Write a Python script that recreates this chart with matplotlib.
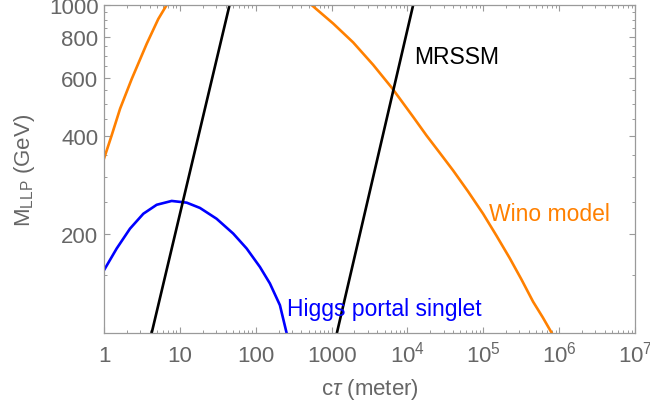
import matplotlib
matplotlib.use("Agg")
import matplotlib.pyplot as plt
from matplotlib.ticker import FixedLocator, NullFormatter

plt.rcParams["font.family"] = ["Liberation Sans", "DejaVu Sans"]
plt.rcParams["mathtext.fontset"] = "custom"
plt.rcParams["mathtext.rm"] = "Liberation Sans"
plt.rcParams["mathtext.it"] = "Liberation Sans:italic"

# Wino model (two branches)
wino_left_ctau = [1.0, 1.26, 1.63, 2.32, 3.65, 5.19, 6.7]
wino_left_m = [340, 400, 483, 595, 761, 906, 1000]
wino_right_ctau = [545, 1050, 1926, 3533, 6232, 7943, 11890, 17850, 26730, 40000,
                   63050, 99400, 149200, 223500, 318700, 453100, 608000, 799000]
wino_right_m = [1000, 878, 769, 657, 559, 518, 456, 400, 354, 313,
                270, 231, 198, 169, 145.6, 124.6, 111.6, 100]

# Higgs portal singlet
higgs_ctau = [1.0, 1.47, 2.20, 3.30, 4.95, 7.8, 12.3, 18.4, 30.5, 50.5,
              75.9, 113.6, 153.8, 208.4, 255.4]
higgs_m = [155.4, 181, 208, 231, 246, 252.7, 249.7, 240.6, 223, 201,
           181, 159, 141.6, 121.6, 100]

# MRSSM (two straight lines)
mrssm1_ctau = [4.25, 45.2]
mrssm1_m = [100, 1000]
mrssm2_ctau = [1175, 11900]
mrssm2_m = [100, 1000]

xticks = [1, 10, 100, 1000, 1e4, 1e5, 1e6, 1e7]
xlabels = ["1", "10", "100", "1000", r"$\mathregular{10^4}$", r"$\mathregular{10^5}$",
           r"$\mathregular{10^6}$", r"$\mathregular{10^7}$"]
yticks = [200, 400, 600, 800, 1000]

orange = "#ff8000"
blue = "#0000ff"
gray = "#666666"
framecol = "#9a9a9a"

fig = plt.figure(figsize=(6.5, 4.1), dpi=100)
ax = fig.add_axes([104 / 650, 1 - 334 / 410, (635 - 104) / 650, (334 - 6) / 410])

lw = 1.9
ax.plot(wino_left_ctau, wino_left_m, color=orange, lw=lw)
ax.plot(wino_right_ctau, wino_right_m, color=orange, lw=lw)
ax.plot(higgs_ctau, higgs_m, color=blue, lw=lw)
ax.plot(mrssm1_ctau, mrssm1_m, color="black", lw=lw)
ax.plot(mrssm2_ctau, mrssm2_m, color="black", lw=lw)

ax.set_xscale("log")
ax.set_yscale("log")
ax.set_xlim(1, 1e7)
ax.set_ylim(100, 1000)

ax.xaxis.set_major_locator(FixedLocator(xticks))
ax.set_xticklabels(xlabels)
minx = [m * 10 ** d for d in range(7) for m in range(2, 10)]
ax.xaxis.set_minor_locator(FixedLocator(minx))
ax.xaxis.set_minor_formatter(NullFormatter())

ax.yaxis.set_major_locator(FixedLocator(yticks))
ax.set_yticklabels([str(v) for v in yticks])
miny = [v for v in range(100, 1000, 50) if v not in yticks]
ax.yaxis.set_minor_locator(FixedLocator(miny))
ax.yaxis.set_minor_formatter(NullFormatter())

ax.tick_params(which="both", direction="in", top=True, right=True, color=framecol,
               labelcolor=gray, labelsize=16)
ax.tick_params(which="major", length=4.5, width=0.8)
ax.tick_params(which="minor", length=2.5, width=0.7)
ax.tick_params(axis="x", which="major", pad=20.4)
ax.tick_params(axis="y", which="major", pad=4)
for lbl in ax.get_xticklabels():
    lbl.set_verticalalignment("baseline")
for s in ax.spines.values():
    s.set_color(framecol)
    s.set_linewidth(0.9)

ax.set_xlabel(r"c$\tau$ (meter)", fontsize=16, color=gray)
ax.xaxis.set_label_coords(0.5, -(377 - 334) / 328)
ax.set_ylabel(r"$\mathregular{M_{LLP}}$ (GeV)", fontsize=16, color=gray)
ax.yaxis.set_label_coords((37 - 104) / 531, 0.5)

ax.text(12100, 665, "MRSSM", fontsize=16.5, color="black", va="baseline", ha="left")
ax.text(1.2e5, 220.6, "Wino model", fontsize=16.5, color=orange, va="baseline", ha="left")
ax.text(262, 113.4, "Higgs portal singlet", fontsize=16.5, color=blue, va="baseline", ha="left")

fig.savefig("out.png", dpi=100)
